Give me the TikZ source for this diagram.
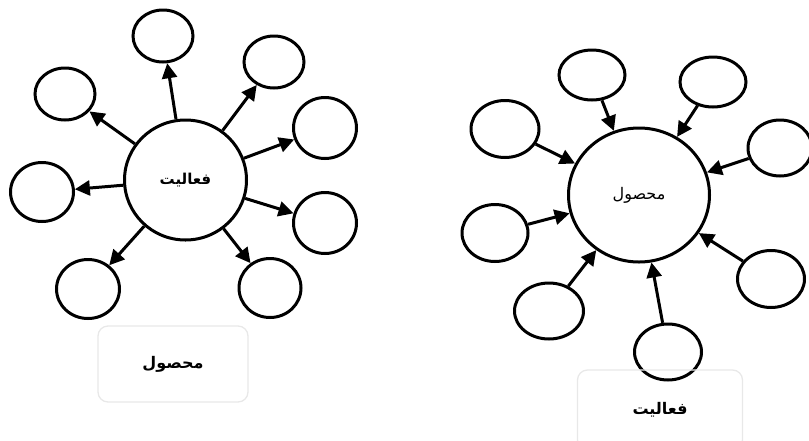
\documentclass[tikz,border=0pt]{standalone}
\usepackage{fontspec}
\usetikzlibrary{shapes.geometric,arrows.meta}
\newfontfamily\arabicfont[Script=Arabic]{DejaVu Sans}
\TeXXeTstate=1
\definecolor{boxgray}{HTML}{E8E8E8}
\tikzset{
  sat/.style={ellipse,draw,line width=3pt,inner sep=0pt},
  hub/.style={ellipse,draw,line width=3pt,inner sep=0pt,font=\arabicfont},
  conn/.style={line width=3pt,-{Triangle[length=15pt,width=15pt]}},
  lbl/.style={draw=boxgray,line width=1.3pt,rounded corners=10pt,font=\arabicfont\bfseries\fontsize{16}{18}\selectfont}
}
\begin{document}
\begin{tikzpicture}[x=1pt,y=-1pt]
\useasboundingbox (0,0) rectangle (809,440);
% ---------- left diagram ----------
\node[hub,minimum width=122pt,minimum height=120pt] (L) at (185.5,180) {\bfseries\fontsize{15}{17}\selectfont\beginR فعالیت\endR};
\node[sat,minimum width=60pt,minimum height=52pt] (L1) at (163,36) {};
\node[sat,minimum width=60pt,minimum height=52pt] (L2) at (274,62) {};
\node[sat,minimum width=63pt,minimum height=61pt] (L3) at (325,128) {};
\node[sat,minimum width=63pt,minimum height=61pt] (L4) at (325,223) {};
\node[sat,minimum width=62pt,minimum height=59pt] (L5) at (270,288) {};
\node[sat,minimum width=63pt,minimum height=59pt] (L6) at (88,289) {};
\node[sat,minimum width=63pt,minimum height=59pt] (L7) at (42,192) {};
\node[sat,minimum width=60pt,minimum height=52pt] (L8) at (65,94) {};
\foreach \i in {1,...,8} \draw[conn] (L) -- (L\i);
\node[lbl,minimum width=150pt,minimum height=76pt] (LB) at (173,364) {\beginR محصول\endR};
% ---------- right diagram ----------
\node[hub,minimum width=141pt,minimum height=134pt] (R) at (639,195) {\fontsize{16}{18}\selectfont\beginR محصول\endR};
\node[sat,minimum width=66pt,minimum height=50pt] (R1) at (592,75) {};
\node[sat,minimum width=66pt,minimum height=50pt] (R2) at (713,82) {};
\node[sat,minimum width=64pt,minimum height=56pt] (R3) at (780,148) {};
\node[sat,minimum width=68pt,minimum height=57pt] (R4) at (505,129) {};
\node[sat,minimum width=66pt,minimum height=57pt] (R5) at (495,233) {};
\node[sat,minimum width=69pt,minimum height=56pt] (R6) at (549,311) {};
\node[sat,minimum width=67pt,minimum height=56pt] (R7) at (668,352) {};
\node[sat,minimum width=67pt,minimum height=57pt] (R8) at (771,279) {};
\foreach \i in {1,...,8} \draw[conn] (R\i) -- (R);
\node[lbl,minimum width=165pt,minimum height=80pt] (RB) at (660,410) {\beginR فعالیت\endR};
\end{tikzpicture}
\end{document}
